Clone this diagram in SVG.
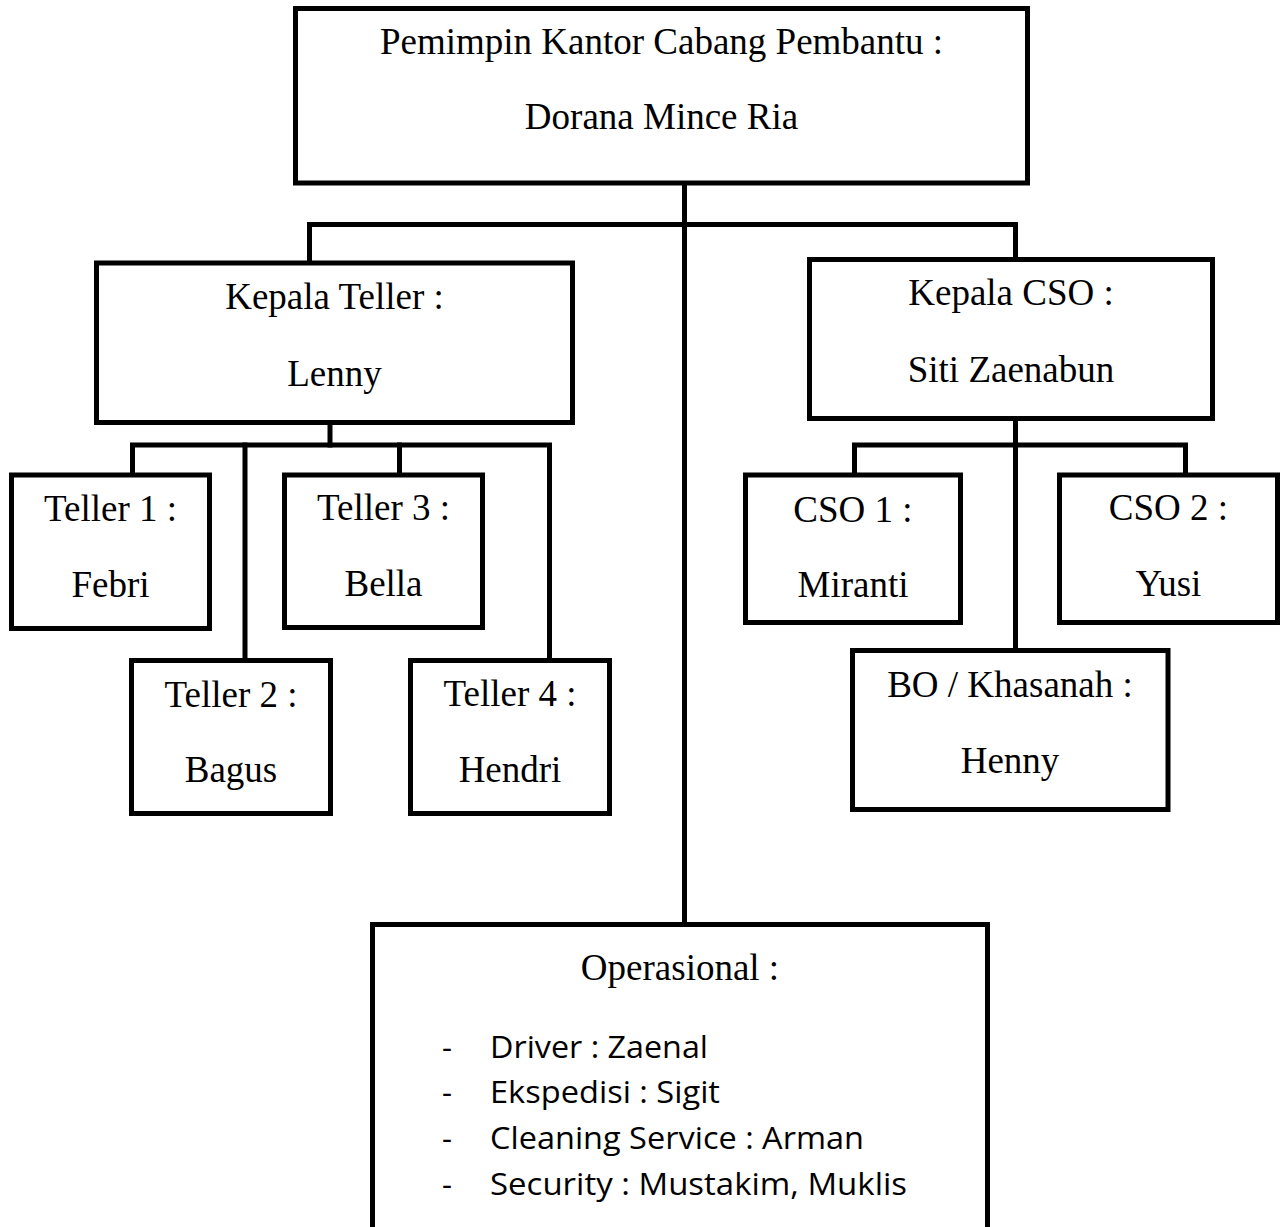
<svg xmlns="http://www.w3.org/2000/svg" width="1287" height="1227" viewBox="0 0 1287 1227">
<style>
.box{fill:#fff;stroke:#000;stroke-width:5}
.con{fill:none;stroke:#000;stroke-width:5;stroke-linecap:square;stroke-linejoin:miter}
.t{font-family:"Liberation Serif","Times New Roman",serif;font-size:37px;fill:#000;text-anchor:middle}
.l{font-family:"Open Sans","Lato",sans-serif;font-size:31px;fill:#000}
</style>
<rect width="1287" height="1227" fill="#fff"/>
<g id="connectors">
<path class="con" d="M684.5 183 V924.5"/>
<path class="con" d="M309.5 263 V224.5 H1015.5 V259.5"/>
<path class="con" d="M330 422.5 V445"/>
<path class="con" d="M132.5 475 V445 H549.5 V660.5"/>
<path class="con" d="M245 445 V660.5"/>
<path class="con" d="M399.5 445 V475"/>
<path class="con" d="M1015.5 418.5 V650.5"/>
<path class="con" d="M854.5 475 V445 H1185.5 V475"/>
</g>
<g id="pimpinan">
<rect class="box" x="295.5" y="8.5" width="732" height="174.5"/>
<text class="t" x="661.5" y="54">Pemimpin Kantor Cabang Pembantu :</text>
<text class="t" x="661.5" y="129">Dorana Mince Ria</text>
</g>
<g id="kepala-teller">
<rect class="box" x="96.5" y="263" width="476" height="159.5"/>
<text class="t" x="334.5" y="309">Kepala Teller :</text>
<text class="t" x="334.5" y="386">Lenny</text>
</g>
<g id="kepala-cso">
<rect class="box" x="809.5" y="259.5" width="403" height="159"/>
<text class="t" x="1011" y="305">Kepala CSO :</text>
<text class="t" x="1011" y="382">Siti Zaenabun</text>
</g>
<g id="teller1">
<rect class="box" x="11.5" y="475" width="198" height="153.5"/>
<text class="t" x="110.5" y="521">Teller 1 :</text>
<text class="t" x="110.5" y="597">Febri</text>
</g>
<g id="teller2">
<rect class="box" x="131.5" y="660.5" width="199" height="153"/>
<text class="t" x="231" y="707">Teller 2 :</text>
<text class="t" x="231" y="782">Bagus</text>
</g>
<g id="teller3">
<rect class="box" x="284.5" y="475" width="198" height="152.5"/>
<text class="t" x="383.5" y="520">Teller 3 :</text>
<text class="t" x="383.5" y="596">Bella</text>
</g>
<g id="teller4">
<rect class="box" x="410.5" y="660.5" width="199" height="153"/>
<text class="t" x="510" y="706">Teller 4 :</text>
<text class="t" x="510" y="782">Hendri</text>
</g>
<g id="cso1">
<rect class="box" x="745.5" y="475" width="215" height="147.5"/>
<text class="t" x="853" y="522">CSO 1 :</text>
<text class="t" x="853" y="597">Miranti</text>
</g>
<g id="cso2">
<rect class="box" x="1059.5" y="475" width="218" height="147.5"/>
<text class="t" x="1168.5" y="520">CSO 2 :</text>
<text class="t" x="1168.5" y="596">Yusi</text>
</g>
<g id="bo">
<rect class="box" x="852.5" y="650.5" width="315.5" height="159"/>
<text class="t" x="1010" y="697">BO / Khasanah :</text>
<text class="t" x="1010" y="773">Henny</text>
</g>
<g id="operasional">
<rect class="box" x="372.5" y="924.5" width="615" height="320"/>
<text class="t" x="680" y="980">Operasional :</text>
<text class="l" x="442" y="1058">-</text>
<text class="l" x="490" y="1058" textLength="218" lengthAdjust="spacingAndGlyphs">Driver : Zaenal</text>
<text class="l" x="442" y="1103">-</text>
<text class="l" x="490" y="1103" textLength="230" lengthAdjust="spacingAndGlyphs">Ekspedisi : Sigit</text>
<text class="l" x="442" y="1149">-</text>
<text class="l" x="490" y="1149" textLength="374" lengthAdjust="spacingAndGlyphs">Cleaning Service : Arman</text>
<text class="l" x="442" y="1195">-</text>
<text class="l" x="490" y="1195" textLength="417" lengthAdjust="spacingAndGlyphs">Security : Mustakim, Muklis</text>
</g>
</svg>
